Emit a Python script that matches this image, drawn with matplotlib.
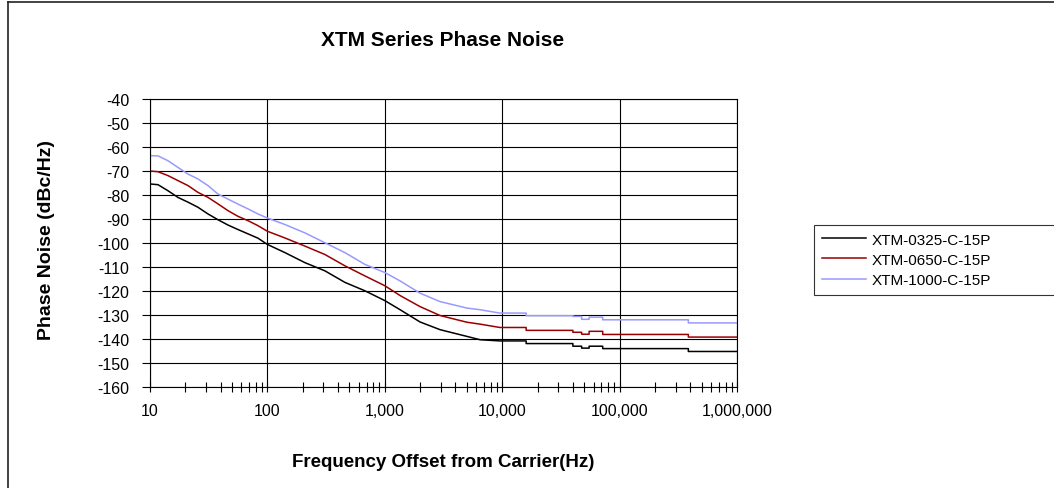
import numpy as np
import matplotlib.pyplot as plt
from matplotlib.ticker import FixedLocator, LogLocator, NullFormatter
from matplotlib.lines import Line2D

plt.rcParams['font.family'] = ['Liberation Sans', 'DejaVu Sans']

# offset frequency (Hz); repeated values mark the vertical steps of the flat tail
freq = [10, 11.7, 14.2, 17.3, 21.1, 25.6, 31.2, 37.9, 46.1, 56.2, 68.4, 83.2, 100,
        141, 209, 309, 457, 676, 1000, 1350, 1995, 2950, 4990, 6470, 9560,
        16000, 16000, 40000, 40000, 47500, 47500, 55000, 55000, 71800, 71800,
        385000, 385000, 1000000]

xtm_0325 = [-75.4, -75.7, -78.2, -81.0, -83.0, -85.1, -87.9, -90.3, -92.5, -94.4, -96.2, -98.0, -100.6,
            -104.0, -108.2, -111.6, -116.4, -119.9, -124.0, -127.8, -132.9, -136.1, -138.9, -140.3, -140.8,
            -140.8, -141.9, -141.9, -143.0, -143.0, -143.8, -143.8, -143.0, -143.0, -144.0,
            -144.0, -145.2, -145.2]

xtm_0650 = [-70.0, -70.3, -71.9, -74.0, -76.1, -78.9, -81.0, -83.7, -86.5, -88.9, -90.7, -92.8, -95.1,
            -97.9, -101.3, -104.8, -109.5, -113.7, -117.8, -121.9, -126.5, -130.2, -133.0, -133.8, -135.2,
            -135.2, -136.4, -136.4, -137.2, -137.2, -138.0, -138.0, -136.8, -136.8, -138.1,
            -138.1, -139.2, -139.2]

xtm_1000 = [-63.6, -63.7, -65.7, -68.5, -71.3, -73.3, -76.1, -79.6, -81.7, -83.8, -85.8, -87.9, -89.6,
            -92.3, -95.8, -99.9, -104.0, -108.9, -112.3, -115.8, -120.9, -124.4, -127.1, -127.8, -129.2,
            -129.2, -130.3, -130.3, -130.6, -130.6, -131.8, -131.8, -130.9, -130.9, -132.0,
            -132.0, -133.3, -133.3]

series = [('XTM-0325-C-15P', xtm_0325, '#000000'),
          ('XTM-0650-C-15P', xtm_0650, '#990000'),
          ('XTM-1000-C-15P', xtm_1000, '#9999ff')]

x_ticks = [10, 100, 1000, 10000, 100000, 1000000]
x_labels = ['10', '100', '1,000', '10,000', '100,000', '1,000,000']
y_ticks = list(range(-160, -39, 10))

W, H = 1054, 489
fig = plt.figure(figsize=(W / 100, H / 100), dpi=100)
ax = fig.add_axes([150 / W, 1 - 388 / H, (737 - 150) / W, (388 - 100) / H])

for name, vals, col in series:
    ax.plot(freq, vals, color=col, lw=1.1, label=name)

ax.set_xscale('log')
ax.set_xlim(10, 1e6)
ax.set_ylim(-160, -40)
ax.xaxis.set_major_locator(FixedLocator(x_ticks))
ax.set_xticklabels(x_labels)
ax.xaxis.set_minor_locator(LogLocator(base=10, subs=np.arange(2, 10)))
ax.xaxis.set_minor_formatter(NullFormatter())
ax.set_yticks(y_ticks)
ax.set_yticklabels([str(v) for v in y_ticks])
ax.grid(True, which='major', color='black', lw=0.8)
ax.tick_params(axis='x', which='both', direction='inout', length=7, width=0.8,
               labelsize=11.5, pad=8)
ax.tick_params(axis='y', which='major', direction='out', length=6, width=0.8,
               labelsize=11.5, pad=9)
for s in ax.spines.values():
    s.set_color('black')
    s.set_linewidth(0.8)

fig.text(443 / W, 1 - 40 / H, 'XTM Series Phase Noise', ha='center', va='center',
         fontsize=15, fontweight='bold')
fig.text(47 / W, 1 - 240 / H, 'Phase Noise (dBc/Hz)', ha='center', va='center',
         rotation=90, fontsize=14, fontweight='bold')
fig.text(443 / W, 1 - 463 / H, 'Frequency Offset from Carrier(Hz)', ha='center',
         va='center', fontsize=13.5, fontweight='bold')

leg = fig.legend(loc='upper left', bbox_to_anchor=(814 / W, 1 - 293 / H, 250 / W, 67 / H),
                 mode='expand', fontsize=11, frameon=True, fancybox=False, handlelength=2.9,
                 handletextpad=0.4, borderaxespad=0, labelspacing=0.4, borderpad=0.5)
leg.get_frame().set_edgecolor('black')
leg.get_frame().set_linewidth(0.8)

# chart area border (left and top edges show in the crop)
fig.add_artist(Line2D([8 / W, 8 / W], [0, 1 - 3 / H], transform=fig.transFigure,
                      color='#222222', lw=1.2))
fig.add_artist(Line2D([8 / W, 1], [1 - 3 / H, 1 - 3 / H], transform=fig.transFigure,
                      color='#222222', lw=1.2))

fig.savefig('out.png', dpi=100)
